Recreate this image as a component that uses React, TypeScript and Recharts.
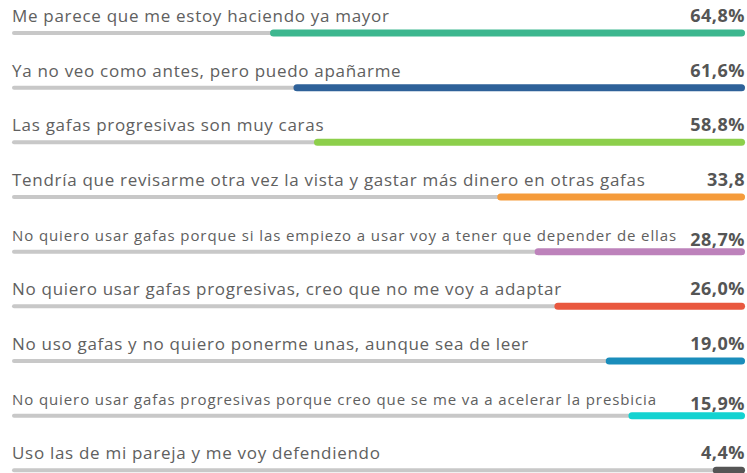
import { BarChart, Bar, XAxis, YAxis, Cell } from 'recharts';

const reasons = [
  'Me parece que me estoy haciendo ya mayor',
  'Ya no veo como antes, pero puedo apañarme',
  'Las gafas progresivas son muy caras',
  'Tendría que revisarme otra vez la vista y gastar más dinero en otras gafas',
  'No quiero usar gafas porque si las empiezo a usar voy a tener que depender de ellas',
  'No quiero usar gafas progresivas, creo que no me voy a adaptar',
  'No uso gafas y no quiero ponerme unas, aunque sea de leer',
  'No quiero usar gafas progresivas porque creo que se me va a acelerar la presbicia',
  'Uso las de mi pareja y me voy defendiendo',
];

const shares = [64.8, 61.6, 58.8, 33.8, 28.7, 26.0, 19.0, 15.9, 4.4];

const shareLabels = ['64,8%', '61,6%', '58,8%', '33,8', '28,7%', '26,0%', '19,0%', '15,9%', '4,4%'];

const colors = ['#3db78f', '#2e6199', '#8dcf4b', '#f59b3b', '#bd82bb', '#e9583f', '#1a8dbb', '#13d3d1', '#555555'];

const data = reasons.map((reason, i) => ({ reason, share: shares[i], label: shareLabels[i] }));

const FONT = '"Open Sans", "Noto Sans", sans-serif';

// gray track + texts, drawn as the bar background
const Track = (props: any) => {
  const { x, y, width, payload } = props;
  const small = payload.reason.length > 76;
  return (
    <g>
      <rect x={x} y={y + 31} width={width} height={4} rx={2} fill="#c8c8c8" />
      <text
        x={x}
        y={y + 22}
        fontFamily={FONT}
        fontSize={small ? 15 : 17}
        letterSpacing={small ? 0.9 : 0.7}
        fill="#606060"
      >
        {payload.reason}
      </text>
      <text
        x={x + width}
        y={y + (small ? 27 : 22)}
        textAnchor="end"
        fontFamily={FONT}
        fontWeight={700}
        fontSize={18}
        letterSpacing={0.5}
        fill="#555"
      >
        {payload.label}
      </text>
    </g>
  );
};

const ColoredBar = (props: any) => {
  const { x, y, width, fill } = props;
  const left = Math.min(x, x + width);
  const w = Math.abs(width);
  return <rect x={left} y={y + 29.5} width={w} height={7} rx={3.5} fill={fill} />;
};

export default function App() {
  return (
    <div style={{ position: 'absolute', left: 0, top: 0, width: 747, height: 473, overflow: 'hidden', background: '#fff' }}>
      <BarChart
        width={747}
        height={492}
        data={data}
        layout="vertical"
        margin={{ top: 0, right: 2, bottom: 0, left: 12 }}
        barCategoryGap={0}
      >
        <XAxis type="number" domain={[0, 100]} reversed hide />
        <YAxis type="category" dataKey="reason" hide />
        <Bar dataKey="share" isAnimationActive={false} background={Track} shape={ColoredBar}>
          {data.map((d, i) => (
            <Cell key={d.reason} fill={colors[i]} />
          ))}
        </Bar>
      </BarChart>
    </div>
  );
}
